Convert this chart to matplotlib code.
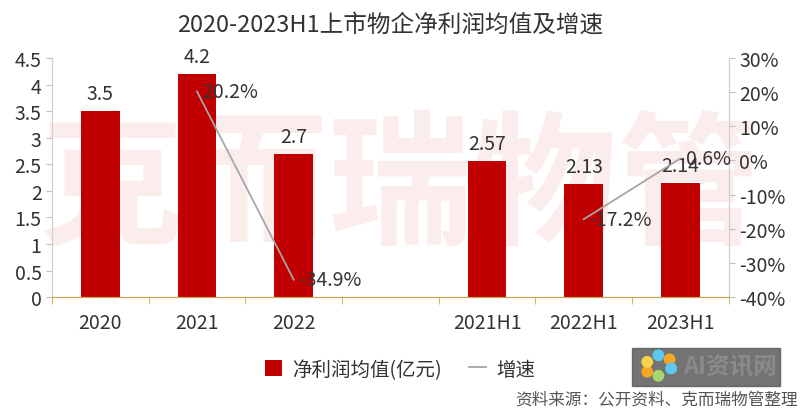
import numpy as np
import matplotlib.pyplot as plt
from matplotlib.patches import Rectangle, Ellipse

plt.rcParams['font.family'] = ['Noto Sans CJK SC', 'DejaVu Sans']

# data
categories = ['2020', '2021', '2022', '', '2021H1', '2022H1', '2023H1']
profit = [3.5, 4.2, 2.7, None, 2.57, 2.13, 2.14]
profit_labels = ['3.5', '4.2', '2.7', '', '2.57', '2.13', '2.14']
growth = [None, 20.2, -34.9, None, None, -17.2, 0.6]
growth_labels = ['', '20.2%', '-34.9%', '', '', '-17.2%', '0.6%']

bar_color = '#C00000'
line_color = '#A6A6A6'
text_color = '#333333'

fig = plt.figure(figsize=(8, 4.1), dpi=100)
ax = fig.add_axes([0.065, 0.273, 0.846, 0.583])
ax2 = ax.twinx()

x = np.arange(len(categories))

# watermark behind the bars
ax.text(0.5, 0.535, '克而瑞物管', transform=fig.transFigure, fontsize=104,
        color='#FCEDED', ha='center', va='center', fontweight='bold',
        zorder=1, clip_on=False)
ax2.patch.set_alpha(0)

# bars
for i, v in enumerate(profit):
    if v is None:
        continue
    ax.bar(x[i], v, width=0.4, color=bar_color, zorder=2,
           label='净利润均值(亿元)' if i == 0 else None)
    ax.annotate(profit_labels[i], (x[i], v), xytext=(0, 5),
                textcoords='offset points', ha='center', va='bottom',
                fontsize=14, color=text_color, zorder=3)

ax.set_xlim(-0.5, len(categories) - 0.5)
ax.set_ylim(0, 4.5)
ax.set_yticks(np.arange(0, 4.51, 0.5))
ax.set_yticklabels(['0', '0.5', '1', '1.5', '2', '2.5', '3', '3.5', '4', '4.5'])
ax.set_xticks(x)
ax.set_xticklabels(categories)
ax.set_xticks(np.arange(-0.5, len(categories), 1), minor=True)
ax.tick_params(axis='x', which='major', length=0, pad=11, labelsize=14, labelcolor=text_color)
ax.tick_params(axis='x', which='minor', length=5, color='#C9A64A', direction='out')
ax.tick_params(axis='y', length=4, color='#BFBFBF', labelsize=14, labelcolor=text_color)

# growth line, broken between annual and half-year series
segments = [[1, 2], [5, 6]]
for idx, seg in enumerate(segments):
    ax2.plot(x[seg], [growth[j] for j in seg], color=line_color, lw=1.3, zorder=3,
             label='增速' if idx == 0 else None)
for i, g in enumerate(growth):
    if g is None:
        continue
    ax2.annotate(growth_labels[i], (x[i], g), xytext=(4, 0),
                 textcoords='offset points', ha='left', va='center',
                 fontsize=14, color=text_color)

ax2.set_ylim(-40, 30)
ax2.set_yticks(np.arange(-40, 31, 10))
ax2.set_yticklabels([f'{t}%' for t in range(-40, 31, 10)])
ax2.tick_params(axis='y', length=4, color='#BFBFBF', labelsize=14, labelcolor=text_color)

for a in (ax, ax2):
    a.spines['top'].set_visible(False)
    a.spines['left'].set_color('#D0D0D0')
    a.spines['right'].set_color('#D0D0D0')
    a.spines['bottom'].set_color('#C9A64A')

ax.set_title('2020-2023H1上市物企净利润均值及增速', fontsize=17, color=text_color, pad=20)

# legend
h1, l1 = ax.get_legend_handles_labels()
h2, l2 = ax2.get_legend_handles_labels()
fig.legend(h1 + h2, l1 + l2, loc='center', bbox_to_anchor=(0.5, 0.097), ncol=2,
           frameon=False, fontsize=14, handlelength=0.9, handleheight=0.9,
           handletextpad=0.5, columnspacing=1.4, labelcolor=text_color)

# source note and overlay logo
fig.text(0.997, 0.025, '资料来源：公开资料、克而瑞物管整理', ha='right', va='center',
         fontsize=12, color='#555555')
fig.patches.append(Rectangle((0.79, 0.055), 0.185, 0.093, transform=fig.transFigure,
                             color='#5A5A5A', alpha=0.85, zorder=5))
fig.text(0.912, 0.103, 'AI资讯网', ha='center', va='center', fontsize=17,
         fontweight='bold', color='#8A8A8A', zorder=6)
petals = [(0.0, 0.028, '#5BC8F0'), (0.014, 0.018, '#F5A623'), (0.016, -0.004, '#5BC8F0'),
          (0.0, -0.022, '#A5D86E'), (-0.014, -0.012, '#F5A623'), (-0.014, 0.012, '#F7D44C')]
for dx, dy, c in petals:
    fig.patches.append(Ellipse((0.823 + dx, 0.103 + dy), 0.013, 0.013 * 800 / 410,
                               transform=fig.transFigure, color=c, zorder=6))

plt.savefig('out.png', dpi=100)
